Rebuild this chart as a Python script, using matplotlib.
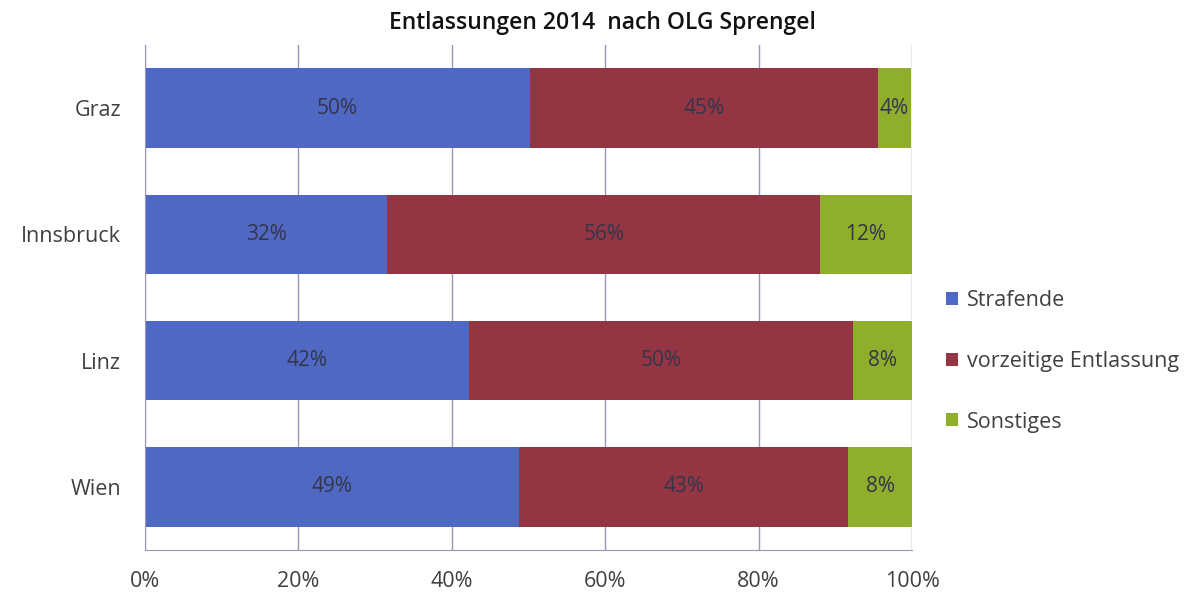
import matplotlib.pyplot as plt
import numpy as np

regions = ['Graz', 'Innsbruck', 'Linz', 'Wien']
strafende = [50.2, 31.6, 42.3, 48.8]
vorzeitig = [45.3, 56.4, 50.0, 42.9]
sonstiges = [4.4, 12.0, 7.7, 8.3]
series_names = ['Strafende', 'vorzeitige Entlassung', 'Sonstiges']
colors = ['#4f68c4', '#933543', '#8eae2c']
tick_labels = ['0%', '20%', '40%', '60%', '80%', '100%']

plt.rcParams['font.family'] = ['Open Sans', 'DejaVu Sans']

fig = plt.figure(figsize=(12.04, 5.99), dpi=100)
ax = fig.add_axes([0.1204, 0.0818, 0.6371, 0.8431])

y = np.arange(len(regions))
left = np.zeros(len(regions))
for vals, name, col in zip([strafende, vorzeitig, sonstiges], series_names, colors):
    vals = np.array(vals)
    ax.barh(y, vals, left=left, height=0.63, color=col, label=name, zorder=2)
    for yi, l, v in zip(y, left, vals):
        ax.text(l + v / 2, yi, f'{round(v):.0f}%', ha='center', va='center',
                fontsize=15, color='#33354a', zorder=3)
    left += vals

ax.set_xlim(0, 100)
ax.set_ylim(3.5, -0.5)
ax.set_yticks(y)
ax.set_yticklabels(regions, fontsize=15.5, color='#404040')
ax.set_xticks(np.arange(0, 101, 20))
ax.set_xticklabels(tick_labels, fontsize=15.5, color='#404040')
ax.tick_params(axis='y', length=0, pad=17)
ax.tick_params(axis='x', length=0, pad=15)
ax.grid(axis='x', color='#9a98b8', linewidth=1, zorder=0)
for s in ['top', 'right']:
    ax.spines[s].set_visible(False)
for s in ['left', 'bottom']:
    ax.spines[s].set_color('#9a98b8')

fig.text(0.50, 0.962, 'Entlassungen 2014  nach OLG Sprengel', ha='center', va='center',
         fontsize=16.5, fontweight='semibold', color='#111111')

fig.legend(loc='center left', bbox_to_anchor=(0.770, 0.397), frameon=False,
           fontsize=15.5, handlelength=0.55, handleheight=0.55, handletextpad=0.4,
           labelspacing=1.85, labelcolor='#404040')

plt.savefig('out.png', dpi=100)
